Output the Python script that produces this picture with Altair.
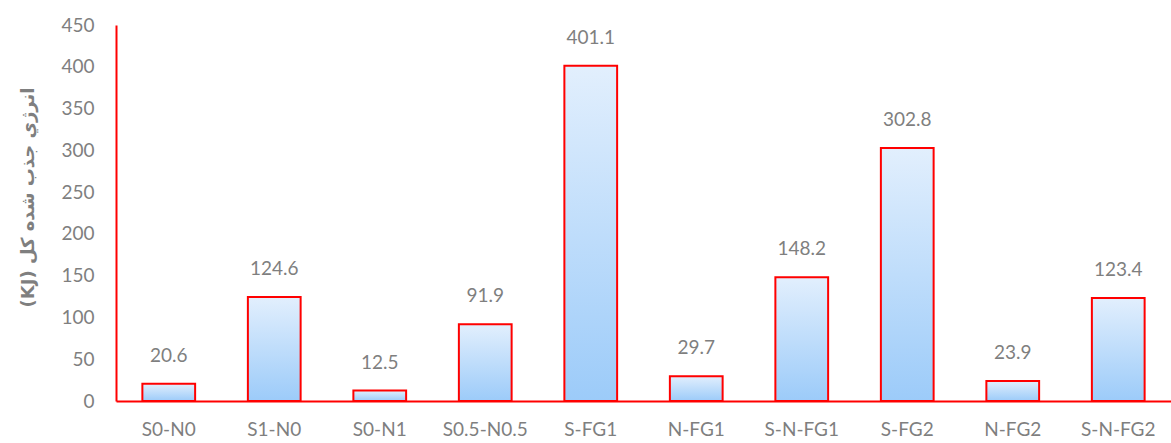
import altair as alt
import pandas as pd

# Samples and their total absorbed energy (kJ)
samples = ["S0-N0", "S1-N0", "S0-N1", "S0.5-N0.5", "S-FG1",
           "N-FG1", "S-N-FG1", "S-FG2", "N-FG2", "S-N-FG2"]
energy = [20.6, 124.6, 12.5, 91.9, 401.1, 29.7, 148.2, 302.8, 23.9, 123.4]

df = pd.DataFrame({"sample": samples, "energy": energy})

gray = "#7f7f7f"
latin = "Lato, DejaVu Sans, sans-serif"
# right-to-left embedding so the Persian title keeps its reading order
y_title = "\u202bانرژي جذب شده کل (KJ)\u202c"

x = alt.X(
    "sample:N", sort=samples, title=None,
    scale=alt.Scale(paddingInner=0.5, paddingOuter=0.25),
    axis=alt.Axis(labelAngle=0, labelPadding=19, ticks=False, grid=False,
                  domainColor="#ff0000", domainWidth=2,
                  labelFontSize=19, labelColor=gray, labelFont=latin),
)
y = alt.Y(
    "energy:Q", title=y_title,
    scale=alt.Scale(domain=[0, 450], nice=False),
    axis=alt.Axis(values=list(range(0, 451, 50)), grid=False, ticks=False,
                  domainColor="#ff0000", domainWidth=2, labelPadding=22,
                  labelFontSize=19, labelColor=gray, labelFont=latin,
                  titleFont="DejaVu Sans", titleFontSize=18, titleFontWeight="bold",
                  titleColor=gray, titleAngle=-90, titleX=-88, titleY=172,
                  titleAlign="center", titleBaseline="middle"),
)

bars = alt.Chart(df).mark_bar(
    stroke="#ff0000", strokeWidth=2,
    color=alt.Gradient(
        gradient="linear", x1=0, y1=0, x2=0, y2=1,
        stops=[alt.GradientStop(color="#e2effd", offset=0),
               alt.GradientStop(color="#9ccbf9", offset=1)],
    ),
).encode(x=x, y=y)

labels = alt.Chart(df).mark_text(
    baseline="bottom", dy=-18, fontSize=19, color=gray, font=latin,
).encode(x=x, y=y, text=alt.Text("energy:Q", format=".1f"))

chart = (bars + labels).properties(
    width=1055, height=376,
    padding={"left": 116, "top": 25, "right": 0, "bottom": 42},
    autosize=alt.AutoSizeParams(type="none"),
).configure(background="white").configure_view(stroke=None, strokeWidth=0)

chart.save("out.html", embed_options={"renderer": "svg", "actions": False})
